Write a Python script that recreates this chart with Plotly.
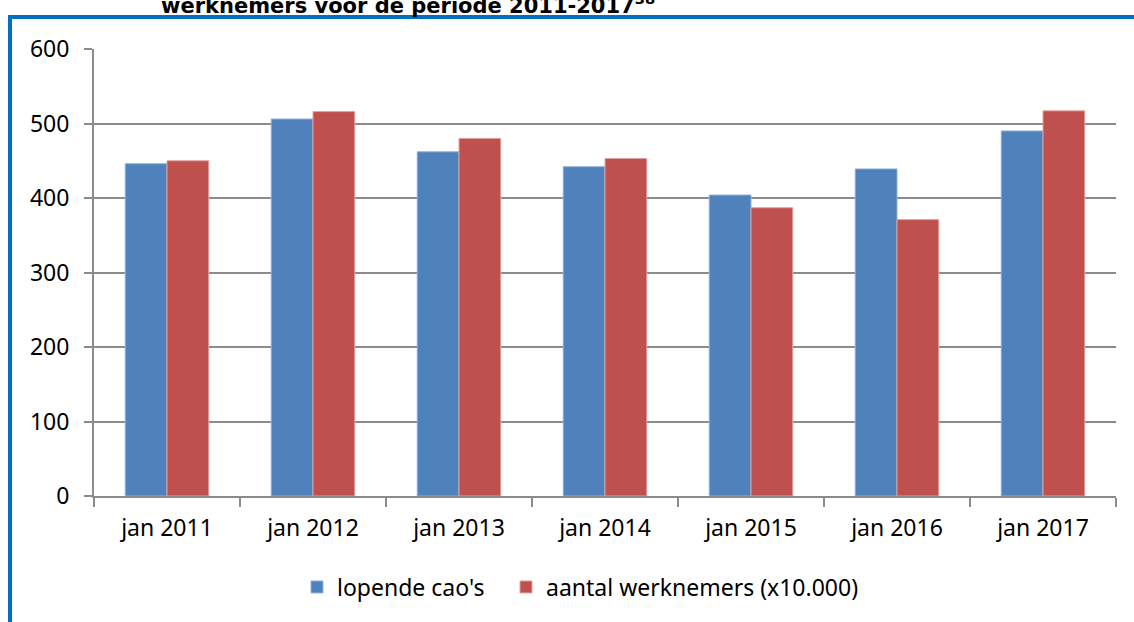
import plotly.graph_objects as go

categories = ["jan 2011", "jan 2012", "jan 2013", "jan 2014", "jan 2015", "jan 2016", "jan 2017"]
lopende_caos = [446, 506, 462, 442, 404, 439, 490]
aantal_werknemers = [450, 516, 480, 453, 387, 371, 517]
y_ticks = [0, 100, 200, 300, 400, 500, 600]

title_text = "werknemers voor de periode 2011-2017<sup>38</sup>"

W, H = 1134, 622
L, R, T, B = 94, 18, 49, 126
pw, ph = W - L - R, H - T - B


def px_x(x):
    return (x - L) / pw


def px_y(y):
    return (H - B - y) / ph


fig = go.Figure()
fig.add_trace(go.Bar(
    name="lopende cao's", x=categories, y=lopende_caos, legend="legend",
    marker=dict(color="#4F81BD", line=dict(color="#8FB0DA", width=1)),
))
fig.add_trace(go.Bar(
    name="aantal werknemers (x10.000)", x=categories, y=aantal_werknemers,
    legend="legend2",
    marker=dict(color="#C0504D", line=dict(color="#E3A2A0", width=1)),
))

axis_font = dict(family="Noto Sans", size=23, color="#000000")
legend_font = dict(family="Noto Sans", size=23, color="#000000")


def legend_box(x_left):
    return dict(
        orientation="h", x=px_x(x_left), xanchor="left",
        y=px_y(587), yanchor="middle", font=legend_font,
        bgcolor="rgba(0,0,0,0)",
    )


fig.update_layout(
    width=W, height=H,
    margin=dict(l=L, r=R, t=T, b=B),
    paper_bgcolor="white", plot_bgcolor="white",
    barmode="group", bargap=0.428, bargroupgap=0,
    showlegend=True,
    legend=legend_box(297),
    legend2=legend_box(506),
    xaxis=dict(
        type="category", tickson="boundaries", ticks="outside", ticklen=9,
        tickwidth=2, tickcolor="#8C8C8C", showline=True, linecolor="#8C8C8C",
        linewidth=2, tickfont=axis_font, showgrid=False, zeroline=False,
        ticklabelstandoff=10,
    ),
    yaxis=dict(
        range=[0, 600], tickvals=y_ticks, ticks="outside", ticklen=8,
        tickwidth=2, tickcolor="#8C8C8C", showline=True, linecolor="#8C8C8C",
        linewidth=2, showgrid=True, gridcolor="#8C8C8C", gridwidth=2,
        zeroline=False, tickfont=axis_font, ticklabelstandoff=10,
    ),
    annotations=[dict(
        text=title_text, xref="paper", yref="paper",
        x=px_x(159), xanchor="left", y=px_y(4), yanchor="middle",
        showarrow=False,
        font=dict(family="DejaVu Sans", size=21, color="#000000", weight="bold"),
    )],
    shapes=[
        dict(type="line", xref="paper", yref="paper", layer="above",
             x0=px_x(8), x1=px_x(W), y0=px_y(17), y1=px_y(17),
             line=dict(color="#0070C0", width=4)),
        dict(type="line", xref="paper", yref="paper", layer="above",
             x0=px_x(10), x1=px_x(10), y0=px_y(15), y1=px_y(H),
             line=dict(color="#0070C0", width=4)),
    ],
)

fig.write_html("out.html")
